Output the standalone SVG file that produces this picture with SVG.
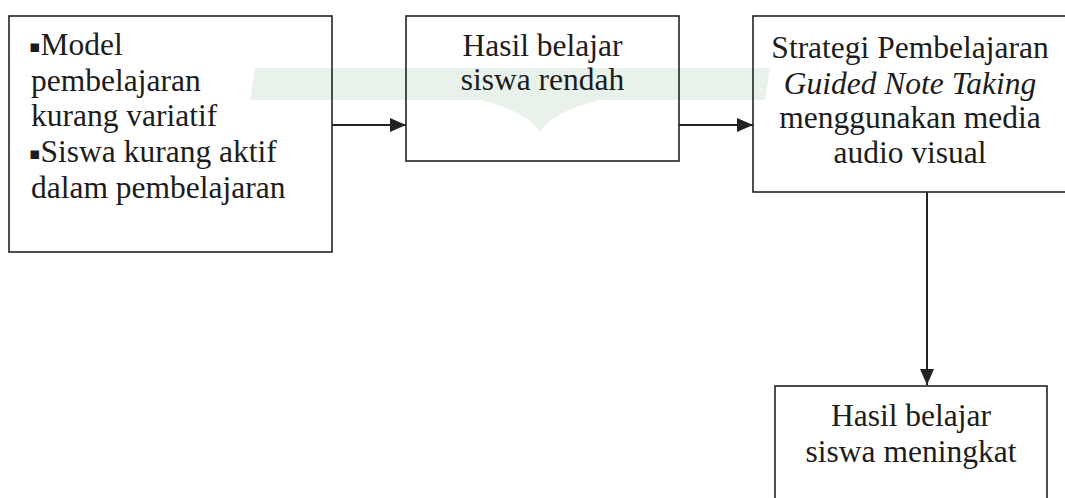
<svg xmlns="http://www.w3.org/2000/svg" width="1065" height="498" viewBox="0 0 1065 498">
<style>
.box{fill:none;stroke:#222;stroke-width:1.6}
.t{font-family:"Liberation Serif","Times New Roman",serif;font-size:31.5px;fill:#1c1c1c}
.b{font-family:"DejaVu Sans",sans-serif;font-size:17px}
.c{text-anchor:middle}
.conn{stroke:#222;stroke-width:2;fill:none}
</style>
<defs>
<marker id="ah" markerUnits="userSpaceOnUse" markerWidth="16" markerHeight="14" refX="16" refY="7" orient="auto">
<path d="M0,0 L16,7 L0,14 Z" fill="#222"/>
</marker>
</defs>
<rect width="1065" height="498" fill="#fff"/>
<g id="watermark">
<path d="M255,68 L770,68 L765,100 L600,100 Q555,110 540,132 Q525,110 480,100 L250,100 Z" fill="#e8f1ea"/>
</g>
<g id="connectors">
<line class="conn" x1="332" y1="125" x2="406" y2="125" marker-end="url(#ah)"/>
<line class="conn" x1="679" y1="125" x2="753" y2="125" marker-end="url(#ah)"/>
<line class="conn" x1="927" y1="192" x2="927" y2="385" marker-end="url(#ah)"/>
</g>
<g id="node1">
<rect class="box" x="9" y="16" width="323" height="236"/>
<text class="t" x="29" y="55"><tspan class="b" dy="-3">▪</tspan><tspan dy="3">Model</tspan></text>
<text class="t" x="31" y="91">pembelajaran</text>
<text class="t" x="31" y="126">kurang variatif</text>
<text class="t" x="29" y="162"><tspan class="b" dy="-3">▪</tspan><tspan dy="3">Siswa kurang aktif</tspan></text>
<text class="t" x="31" y="198">dalam pembelajaran</text>
</g>
<g id="node2">
<rect class="box" x="406" y="16" width="273" height="145"/>
<text class="t c" x="542.5" y="56">Hasil belajar</text>
<text class="t c" x="542.5" y="90">siswa rendah</text>
</g>
<g id="node3">
<rect class="box" x="753" y="16" width="330" height="176"/>
<text class="t c" x="910" y="58">Strategi Pembelajaran</text>
<text class="t c" x="910" y="94" font-style="italic">Guided Note Taking</text>
<text class="t c" x="910" y="128">menggunakan media</text>
<text class="t c" x="910" y="163">audio visual</text>
</g>
<g id="node4">
<rect class="box" x="775" y="386" width="272" height="130"/>
<text class="t c" x="911" y="426">Hasil belajar</text>
<text class="t c" x="911" y="462">siswa meningkat</text>
</g>
</svg>
